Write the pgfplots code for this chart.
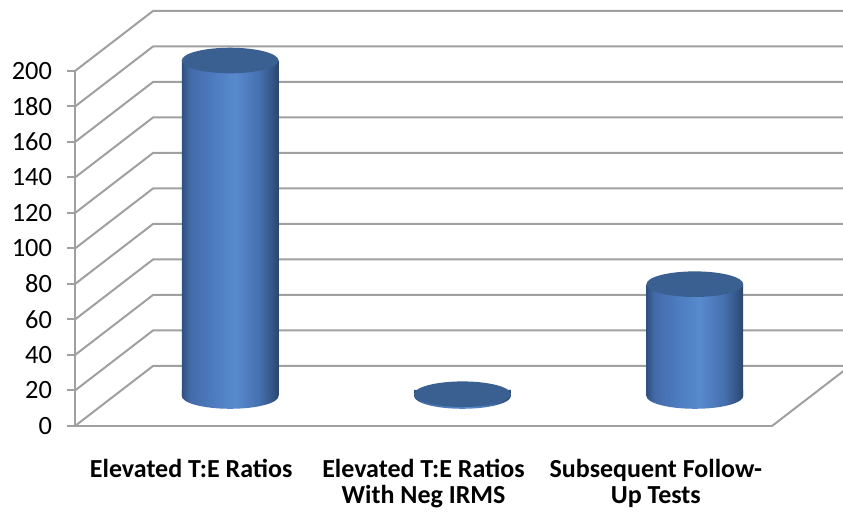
\documentclass[border=0pt]{standalone}
\usepackage{pgfplots}
\pgfplotsset{compat=1.18}
\usepackage{fontspec}
\setmainfont{Carlito}

\definecolor{gridgray}{RGB}{160,160,160}
\definecolor{cylTop}{RGB}{58,95,145}

% cylinder body shading, dark edges and a light band right of centre
\pgfdeclarehorizontalshading{cyl}{100bp}{%
  rgb(0bp)=(.188,.314,.502); rgb(25bp)=(.188,.314,.502);
  rgb(29bp)=(.259,.416,.659); rgb(40bp)=(.298,.478,.745);
  rgb(52.5bp)=(.345,.541,.808); rgb(65bp)=(.275,.439,.686);
  rgb(71.5bp)=(.204,.337,.533); rgb(75bp)=(.165,.275,.439);
  rgb(100bp)=(.165,.275,.439)}

% ellipse caps of the cylinders
\pgfdeclareplotmark{cyltop}{%
  \fill[cylTop, rotate=5] (0,0) ellipse [x radius=24.2pt, y radius=6.4pt];}
\pgfdeclareplotmark{cylbot}{%
  \shade[rotate=5, shading=cyl]
    (-24.2pt,0pt) arc[start angle=180, end angle=360, x radius=24.2pt, y radius=6.4pt]
    -- (24.2pt,3pt) -- (-24.2pt,3pt) -- cycle;}

\begin{document}
\begin{tikzpicture}
\path[use as bounding box] (-37.5pt,-46pt) rectangle (384pt,213pt);
\clip (-37.5pt,-46pt) rectangle (384pt,213pt);
\begin{axis}[
  x=116.17pt, y=0.8875pt,
  xmin=0, xmax=3, ymin=0, ymax=200,
  axis lines*=left,
  axis line style={gridgray, line width=1pt},
  every tick/.style={gridgray, line width=1pt},
  tick align=outside,
  ytick={0,20,...,200},
  major tick length=4pt,
  xtick={0.5,1.5,2.5},
  xticklabels={Elevated T:E Ratios, Elevated T:E Ratios\\With Neg IRMS, Subsequent Follow-\\Up Tests},
  x tick style={draw=none},
  minor xtick={0,1,2,3},
  minor x tick style={gridgray, line width=1pt},
  minor tick length=4pt,
  xticklabel style={align=center, font=\fontsize{13}{13}\selectfont\bfseries, yshift=-9pt},
  yticklabel style={font=\fontsize{13.2}{14}\selectfont, xshift=-4pt},
  /pgf/number format/assume math mode=true,
  clip=false,
]
% back wall and left wall grid
\pgfplotsinvokeforeach{0,20,...,200}{
  \draw[gridgray, line width=1pt] (axis cs:0,#1) -- ++(39pt,30pt) -- ++(348.5pt,0pt);
}
\draw[gridgray, line width=1pt] (axis cs:3,0) -- ++(39pt,30pt);

% cylinders, placed at mid depth
\addplot[only marks, draw=none, mark=cylbot, xshift=19.5pt, yshift=15pt] coordinates {(0.5,0) (1.5,0) (2.5,0)};
\addplot[ybar, bar width=48.2pt, bar shift=0pt, draw=none, shade, shading=cyl, xshift=19.5pt, yshift=15pt] coordinates {(0.5,189)};
\addplot[ybar, bar width=48.2pt, bar shift=0pt, draw=none, shade, shading=cyl, xshift=19.5pt, yshift=15pt] coordinates {(1.5,1)};
\addplot[ybar, bar width=48.2pt, bar shift=0pt, draw=none, shade, shading=cyl, xshift=19.5pt, yshift=15pt] coordinates {(2.5,63)};
\addplot[only marks, draw=none, mark=cyltop, xshift=19.5pt, yshift=15pt] coordinates {(0.5,189) (1.5,1) (2.5,63)};
\end{axis}
\end{tikzpicture}
\end{document}
